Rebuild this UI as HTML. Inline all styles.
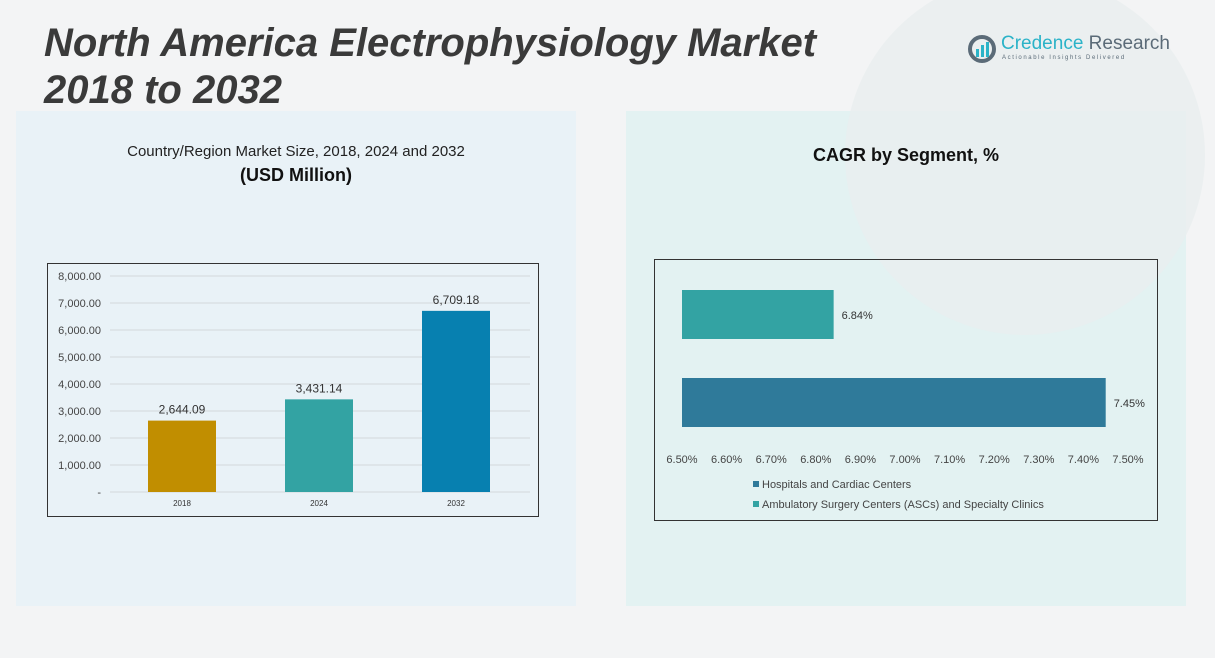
<!DOCTYPE html>
<html><head><meta charset="utf-8"><style>
body{margin:0;width:1215px;height:658px;background:#f3f4f5;position:relative;overflow:hidden;font-family:"Liberation Sans",sans-serif}
.abs{position:absolute}
</style></head><body>
<div class="abs" style="left:16px;top:111px;width:560px;height:495px;background:#e9f2f7"></div>
<div class="abs" style="left:626px;top:111px;width:560px;height:495px;background:#e3f2f2"></div>
<div class="abs" style="left:845px;top:-25px;width:360px;height:360px;border-radius:50%;background:#e9eeef;opacity:.8"></div>
<div class="abs" style="left:44px;top:20px;font-size:40px;font-weight:bold;font-style:italic;color:#3a3a3a;line-height:47px;white-space:nowrap">North America Electrophysiology Market<br>2018 to 2032</div>
<div class="abs" style="left:968px;top:33px;width:200px;height:40px">
<svg width="30" height="30" style="position:absolute;left:0;top:2px"><circle cx="14" cy="14" r="12" fill="none" stroke="#5b6b78" stroke-width="4"/><rect x="8" y="14" width="3" height="8" fill="#2bb3c8"/><rect x="13" y="10" width="3" height="12" fill="#2bb3c8"/><rect x="18" y="7" width="3" height="15" fill="#2bb3c8"/></svg>
<div class="abs" style="left:33px;top:0;font-size:19px;color:#2bb3c8;white-space:nowrap">Credence <span style="color:#5b6b78">Research</span></div>
<div class="abs" style="left:34px;top:22px;font-size:6px;letter-spacing:1.6px;color:#5b6b78;white-space:nowrap">Actionable Insights Delivered</div>
</div>
<div class="abs" style="left:16px;top:143px;width:560px;text-align:center;font-size:15px;color:#222">Country/Region Market Size, 2018, 2024 and 2032</div>
<div class="abs" style="left:16px;top:165px;width:560px;text-align:center;font-size:18px;font-weight:bold;color:#111">(USD Million)</div>
<div class="abs" style="left:626px;top:145px;width:560px;text-align:center;font-size:18px;font-weight:bold;color:#111">CAGR by Segment, %</div>
<svg class="abs" style="left:0;top:0" width="1215" height="658" id="svg"></svg>
<script>
const years=["2018","2024","2032"];
const sizes=[2644.09,3431.14,6709.18];
const sizeLabels=["2,644.09","3,431.14","6,709.18"];
const yTicks=[0,1000,2000,3000,4000,5000,6000,7000,8000];
const yTickLabels=["-","1,000.00","2,000.00","3,000.00","4,000.00","5,000.00","6,000.00","7,000.00","8,000.00"];
const segments=["Hospitals and Cardiac Centers","Ambulatory Surgery Centers (ASCs) and Specialty Clinics"];
const cagr=[7.45,6.84];
const cagrLabels=["7.45%","6.84%"];
const xTicks=[6.5,6.6,6.7,6.8,6.9,7.0,7.1,7.2,7.3,7.4,7.5];
const xTickLabels=["6.50%","6.60%","6.70%","6.80%","6.90%","7.00%","7.10%","7.20%","7.30%","7.40%","7.50%"];
const svg=document.getElementById('svg');const NS="http://www.w3.org/2000/svg";
function mk(t,a,p){const e=document.createElementNS(NS,t);for(const k in a)e.setAttribute(k,a[k]);(p||svg).appendChild(e);return e;}
function txt(s,a){const e=mk('text',Object.assign({'font-family':'Liberation Sans, sans-serif'},a));e.textContent=s;return e;}
let f=mk('rect',{x:47.5,y:263.5,width:491,height:253,fill:'none',stroke:'#333'});


const y=v=>492-v*(216/8000);
yTicks.forEach((t,i)=>{
 const g=mk('line',{x1:110,x2:530,y1:y(t),y2:y(t),stroke:'#d4d8db','stroke-width':1});
 
 
 const l=txt(yTickLabels[i],{x:101,y:y(t)+4,'text-anchor':'end','font-size':11,fill:'#444'});
 
 
});
const colors=['#c18e00','#33a3a3','#0780b0'];
const cx=i=>182+i*137;
years.forEach((yr,i)=>{
 const b=mk('rect',{x:cx(i)-34,y:y(sizes[i]),width:68,height:y(0)-y(sizes[i]),fill:colors[i]});
 
 
 const v=txt(sizeLabels[i],{x:cx(i),y:y(sizes[i])-7,'text-anchor':'middle','font-size':12,fill:'#333'});
 
 
 const c=txt(yr,{x:cx(i),y:506,'text-anchor':'middle','font-size':8,fill:'#333'});
 
 
});
let f2=mk('rect',{x:654.5,y:259.5,width:503,height:261,fill:'none',stroke:'#333'});


const x=v=>682+(v-6.5)*446;
xTicks.forEach((t,i)=>{
 const l=txt(xTickLabels[i],{x:x(t),y:463,'text-anchor':'middle','font-size':11,fill:'#444'});
 
 
});
const hcol=['#2f7a9a','#33a3a3'];const by=[378,290];
segments.forEach((s,i)=>{
 const b=mk('rect',{x:x(6.5),y:by[i],width:x(cagr[i])-x(6.5),height:49,fill:hcol[i]});
 
 
 const v=txt(cagrLabels[i],{x:x(cagr[i])+8,y:by[i]+29,'font-size':11,fill:'#333'});
 
 
 const m=mk('rect',{x:753,y:481+i*20,width:6,height:6,fill:hcol[i]});
 
 
 const lt=txt(s,{x:762,y:488+i*20,'font-size':11,fill:'#444'});
 
 
});
</script>
</body></html>
